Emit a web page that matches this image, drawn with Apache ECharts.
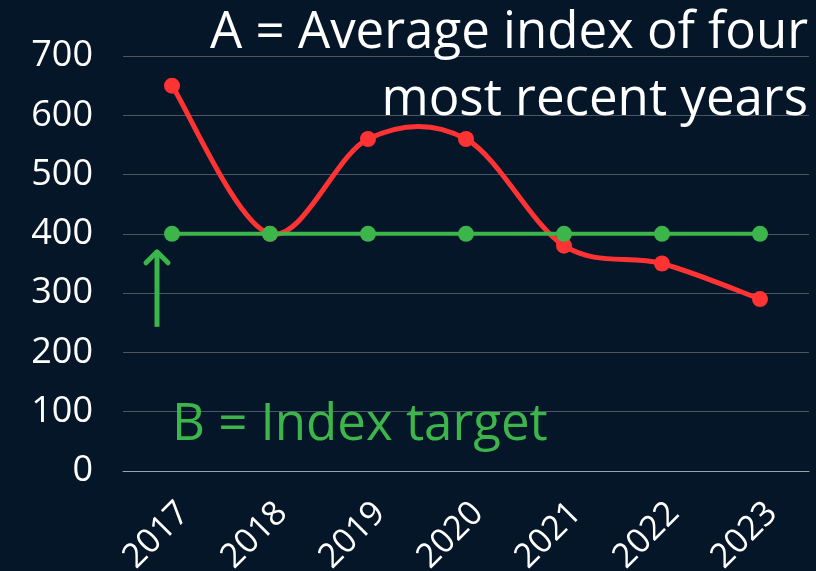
<!DOCTYPE html>
<html>
<head>
<meta charset="utf-8">
<script src="https://cdn.jsdelivr.net/npm/echarts@6/dist/echarts.min.js"></script>
<style>
  html, body { margin: 0; padding: 0; background: #051628; }
  #chart { width: 816px; height: 571px; }
</style>
</head>
<body>
<div id="chart"></div>
<script>
// data
const years = ['2017', '2018', '2019', '2020', '2021', '2022', '2023'];
const averageIndex = [650, 400, 560, 560, 380, 350, 290];
const indexTarget = [400, 400, 400, 400, 400, 400, 400];

const RED = '#ff3333';
const GREEN = '#3cb54a';
const FONT = '"Open Sans", sans-serif';

var myChart = echarts.init(document.getElementById('chart'));

// catmull-rom segment from point i to i+1, through the axis scales
function curveSegment(params, api) {
    var i = params.dataIndex;
    var n = averageIndex.length;
    if (i >= n - 1) return;
    var pt = function (k) {
        k = Math.max(0, Math.min(n - 1, k));
        return api.coord([k, averageIndex[k]]);
    };
    var p0 = pt(i - 1), p1 = pt(i), p2 = pt(i + 1), p3 = pt(i + 2);
    return {
        type: 'bezierCurve',
        shape: {
            x1: p1[0], y1: p1[1],
            cpx1: p1[0] + (p2[0] - p0[0]) / 6, cpy1: p1[1] + (p2[1] - p0[1]) / 6,
            cpx2: p2[0] - (p3[0] - p1[0]) / 6, cpy2: p2[1] - (p3[1] - p1[1]) / 6,
            x2: p2[0], y2: p2[1]
        },
        style: { stroke: RED, lineWidth: 5, fill: null }
    };
}

var option = {
    backgroundColor: '#051628',
    animation: false,
    grid: { left: 123, right: 7, top: 56, bottom: 100, containLabel: false, outerBoundsMode: 'none' },
    xAxis: {
        type: 'category',
        data: years,
        boundaryGap: true,
        axisLine: { show: true, lineStyle: { color: '#9aa3ad', width: 1 } },
        axisTick: { show: false },
        axisLabel: {
            rotate: 45,
            margin: 25,
            verticalAlign: 'top',
            color: '#ffffff',
            fontFamily: FONT,
            fontSize: 34
        }
    },
    yAxis: {
        type: 'value',
        min: 0,
        max: 700,
        interval: 100,
        axisLine: { show: false },
        axisTick: { show: false },
        splitLine: { lineStyle: { color: 'rgba(255,255,255,0.28)', width: 1 } },
        axisLabel: {
            margin: 30,
            color: '#ffffff',
            fontFamily: FONT,
            fontSize: 36
        }
    },
    series: [{
        name: 'A curve',
        type: 'custom',
        clip: false,
        z: 2,
        renderItem: curveSegment,
        encode: { x: 0, y: 1 },
        data: averageIndex.map((v, i) => [i, v])
    }, {
        name: 'A',
        type: 'scatter',
        data: averageIndex,
        symbol: 'circle',
        symbolSize: 16,
        z: 3,
        itemStyle: { color: RED, opacity: 1 }
    }, {
        name: 'B',
        type: 'line',
        data: indexTarget,
        symbol: 'circle',
        symbolSize: 16,
        z: 4,
        itemStyle: { color: GREEN },
        lineStyle: { color: GREEN, width: 4 }
    }]
};
myChart.setOption(option);

// annotations: texts and the arrow pointing at the target line
var p = myChart.convertToPixel({ seriesIndex: 2 }, [0, indexTarget[0]]);
var ax = p[0] - 15;
var tipY = p[1] + 16;
myChart.setOption({
    graphic: [{
        type: 'text',
        x: 808,
        y: 8,
        style: {
            text: 'A = Average index of four',
            align: 'right',
            fill: '#ffffff',
            font: '51px ' + FONT
        }
    }, {
        type: 'text',
        x: 808,
        y: 75,
        style: {
            text: 'most recent years',
            align: 'right',
            fill: '#ffffff',
            font: '51px ' + FONT
        }
    }, {
        type: 'text',
        x: p[0],
        y: 400,
        style: {
            text: 'B = Index target',
            fill: GREEN,
            font: '51px ' + FONT
        }
    }, {
        type: 'polyline',
        shape: { points: [[ax, tipY + 77], [ax, tipY + 2]] },
        style: { stroke: GREEN, lineWidth: 5, lineCap: 'butt' }
    }, {
        type: 'polyline',
        shape: { points: [[ax - 11, tipY + 13], [ax, tipY + 2], [ax + 11, tipY + 13]] },
        style: { stroke: GREEN, lineWidth: 5, fill: null, lineCap: 'round', lineJoin: 'round' }
    }]
});

window.addEventListener('resize', () => { myChart.resize(); });
</script>
</body>
</html>
